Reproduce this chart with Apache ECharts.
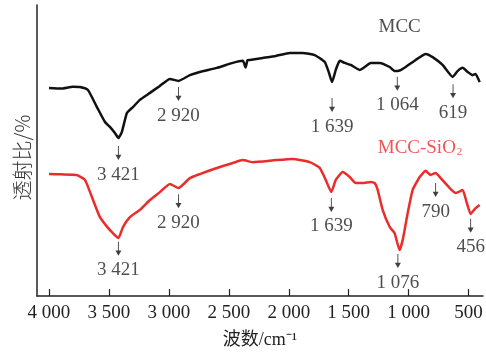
<!DOCTYPE html>
<html><head><meta charset="utf-8">
<script src="https://cdn.jsdelivr.net/npm/echarts@6/dist/echarts.min.js"></script>
<style>html,body{margin:0;padding:0;background:#fff}#c{width:486px;height:354px}</style>
</head><body><div id="c"></div>
<script>
// x: wavenumber (cm^-1), y: transmittance (arbitrary)
const waveMCC = [4000, 3900, 3800, 3742, 3675, 3600, 3533, 3492, 3450, 3421, 3392, 3350, 3300, 3242, 3158, 3075, 2992, 2920, 2825, 2742, 2600, 2467, 2383, 2360, 2345, 2325, 2217, 2108, 1992, 1883, 1783, 1700, 1667, 1639, 1608, 1575, 1533, 1483, 1408, 1367, 1317, 1242, 1158, 1117, 1075, 1025, 942, 858, 800, 717, 633, 592, 550, 508, 467, 442, 408];
const tMCC = [71.5, 71.3, 71.9, 71.8, 70.8, 64.9, 59.8, 58.1, 56.0, 54.3, 56.4, 62.9, 64.9, 67.4, 69.8, 72.2, 74.6, 73.9, 75.9, 77.0, 78.4, 80.1, 80.8, 78.5, 81.0, 81.1, 81.8, 82.5, 83.5, 83.5, 82.8, 80.4, 77.0, 73.5, 77.7, 80.8, 80.1, 79.4, 77.7, 78.7, 80.1, 80.1, 78.7, 77.3, 77.5, 78.7, 81.1, 83.2, 82.1, 79.4, 75.3, 77.3, 78.4, 77.0, 75.9, 76.3, 73.5];

const waveSiO2 = [4000, 3900, 3770, 3700, 3642, 3575, 3508, 3467, 3421, 3383, 3325, 3242, 3158, 3075, 2992, 2920, 2825, 2742, 2600, 2467, 2383, 2300, 2108, 1967, 1825, 1742, 1692, 1645, 1608, 1550, 1492, 1442, 1383, 1317, 1283, 1258, 1217, 1158, 1117, 1076, 1050, 1008, 967, 908, 858, 817, 775, 733, 658, 608, 550, 517, 483, 442, 408];
const tSiO2 = [41.9, 41.8, 41.6, 39.9, 34.0, 27.1, 23.4, 21.6, 19.9, 23.7, 27.1, 29.6, 33.0, 35.7, 38.5, 37.1, 40.5, 41.9, 44.0, 45.7, 46.7, 46.0, 46.7, 47.1, 46.0, 44.0, 39.9, 35.7, 39.9, 42.6, 40.9, 38.8, 38.8, 39.2, 38.8, 36.4, 29.6, 23.7, 21.6, 15.8, 19.2, 28.5, 36.4, 40.9, 43.0, 41.6, 42.3, 40.5, 37.1, 35.4, 36.4, 32.3, 28.2, 30.2, 31.3];

const tickValues = [4000, 3500, 3000, 2500, 2000, 1500, 1000, 500];
const tickLabels = ['4 000', '3 500', '3 000', '2 500', '2 000', '1 500', '1 000', '500'];

const arrowWaveMCC = [3421, 2920, 1639, 1095, 630];
const arrowTMCC = [49.1, 69.4, 65.6, 72.9, 70.4];
const arrowTextMCC = ['3 421', '2 920', '1 639', '1 064', '619'];

const arrowWaveSiO2 = [3421, 2920, 1645, 1090, 775, 483];
const arrowTSiO2 = [16.2, 32.6, 31.3, 12.0, 36.4, 24.1];
const arrowTextSiO2 = ['3 421', '2 920', '1 639', '1 076', '790', '456'];

const nameMCC = 'MCC';
const namePosMCC = [1075, 92.4];
const namePosSiO2 = [905, 51.2];

const SERIF = '"Liberation Serif","Times New Roman",serif';
const ARROW = 'path://M3.4,0H4.6V10H8L4,16L0,10H3.4Z';
const BLACK = '#111111';
const RED = '#ec2b2b';

function zip(a, b) { return a.map((v, i) => [v, b[i]]); }
function arrows(w, t, txt) {
  return w.map((v, i) => ({ value: [v, t[i]], label: { formatter: txt[i] } }));
}

const chart = echarts.init(document.getElementById('c'), null, { renderer: 'canvas' });
chart.setOption({
  animation: false,
  backgroundColor: '#fff',
  grid: { left: 37, right: 3, top: 5, bottom: 58 },
  xAxis: {
    type: 'value', inverse: true, min: 380, max: 4100,
    splitLine: { show: false },
    axisLine: { lineStyle: { color: '#222', width: 1.5 } },
    axisTick: { inside: true, length: 7, customValues: tickValues, lineStyle: { color: '#222', width: 1.2 } },
    axisLabel: { customValues: tickValues, formatter: v => tickLabels[tickValues.indexOf(v)], fontFamily: SERIF, fontSize: 19, color: '#222', margin: 8 },
    name: '波数/cm⁻¹', nameLocation: 'middle', nameGap: 35,
    nameTextStyle: { fontFamily: '"Liberation Serif","Noto Sans CJK SC",serif', fontSize: 18, color: '#222' }
  },
  yAxis: {
    type: 'value', min: 0, max: 100,
    splitLine: { show: false },
    axisLine: { show: true, lineStyle: { color: '#222', width: 1.5 } },
    axisTick: { show: false },
    axisLabel: { show: false },
    name: '透射比/%', nameLocation: 'middle', nameGap: 5,
    nameTextStyle: { fontFamily: '"Noto Sans CJK SC","Liberation Serif",sans-serif', fontSize: 20, color: '#333', fontWeight: 300, padding: [0, 14, 0, 0] }
  },
  series: [
    { type: 'line', data: zip(waveMCC, tMCC), showSymbol: false, smooth: 0.15, lineStyle: { color: BLACK, width: 2.5 } },
    { type: 'line', data: zip(waveSiO2, tSiO2), showSymbol: false, smooth: 0.15, lineStyle: { color: RED, width: 2.5 } },
    {
      type: 'scatter', symbol: ARROW, symbolSize: [6, 14], itemStyle: { color: BLACK },
      label: { show: true, position: 'bottom', distance: 5, fontFamily: SERIF, fontSize: 19, color: '#222' },
      data: arrows(arrowWaveMCC, arrowTMCC, arrowTextMCC)
    },
    {
      type: 'scatter', symbol: ARROW, symbolSize: [6, 14], itemStyle: { color: BLACK },
      label: { show: true, position: 'bottom', distance: 5, fontFamily: SERIF, fontSize: 19, color: '#222' },
      data: arrows(arrowWaveSiO2, arrowTSiO2, arrowTextSiO2)
    },
    {
      type: 'scatter', symbolSize: 0,
      label: { show: true, position: 'inside', fontFamily: SERIF, fontSize: 19, color: '#222', formatter: nameMCC },
      data: [namePosMCC]
    },
    {
      type: 'scatter', symbolSize: 0,
      label: {
        show: true, position: 'inside', formatter: '{a|MCC-SiO}{b|2}',
        rich: {
          a: { fontFamily: SERIF, fontSize: 19, color: RED, lineHeight: 22, verticalAlign: 'bottom' },
          b: { fontFamily: SERIF, fontSize: 11, color: RED, lineHeight: 11, verticalAlign: 'bottom', padding: [0, 0, 0, 1] }
        }
      },
      data: [namePosSiO2]
    }
  ]
});
</script></body></html>
